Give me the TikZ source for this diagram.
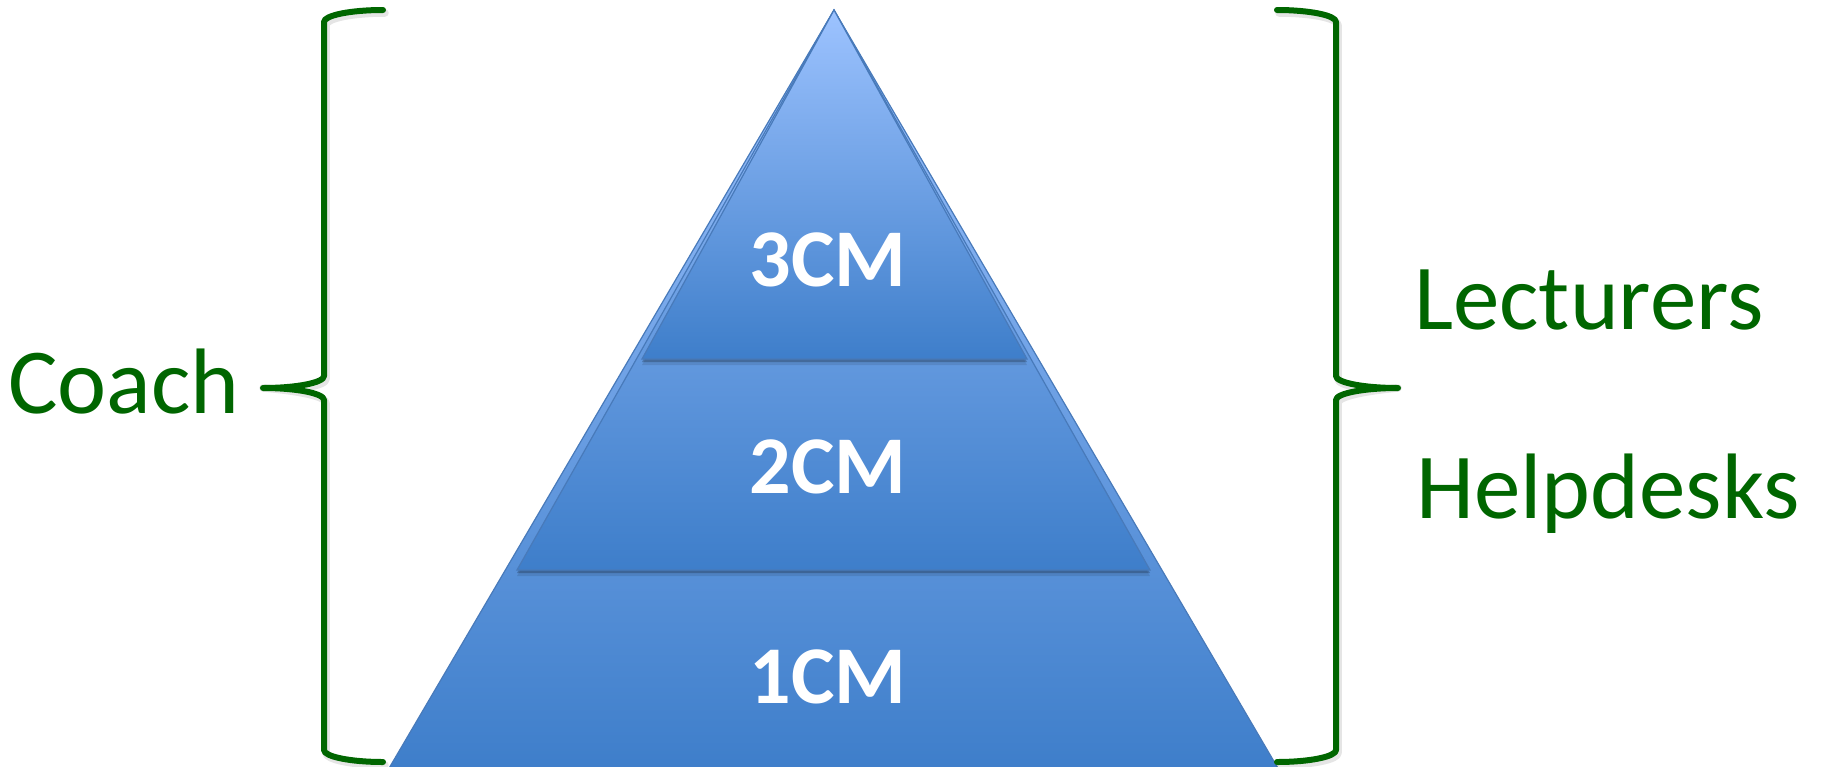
\documentclass[tikz,border=0pt]{standalone}
\usepackage{fontspec}
\setmainfont{Carlito}
\begin{document}
\begin{tikzpicture}[x=1pt,y=-1pt]
\definecolor{grn}{RGB}{0,102,0}
\definecolor{ptop}{RGB}{157,195,255}
\definecolor{pbot}{RGB}{62,126,202}
\definecolor{pedge}{RGB}{72,122,186}
\tikzset{
  layer/.style={top color=ptop, bottom color=pbot, draw=pedge, line width=1.2pt, line join=miter},
  shadowa/.style={fill=black, opacity=0.22},
  shadowb/.style={fill=black, opacity=0.10},
  lbl/.style={text=white, font=\bfseries\fontsize{82}{90}\selectfont, anchor=base, inner sep=0pt},
  glbl/.style={text=grn, font=\fontsize{93}{100}\selectfont, anchor=base west, inner sep=0pt},
  bracepath/.style={draw=grn, line width=6pt, line cap=round, line join=round},
  braceshadow/.style={draw=black, opacity=0.10, line width=7.5pt, line cap=round, line join=round},
}
\useasboundingbox (0,0) rectangle (1826,766);

% outer triangle (bottom layer)
\fill[shadowb, shift={(2,3)}] (834,10) -- (388,770) -- (1279,770) -- cycle;
\path[layer] (834,10) -- (388,770) -- (1279,770) -- cycle;

% middle triangle
\fill[shadowb, shift={(0,6)}] (834,10) -- (517,570) -- (1150,570) -- cycle;
\fill[shadowa, shift={(0,3)}] (834,10) -- (517,570) -- (1150,570) -- cycle;
\path[layer] (834,10) -- (517,570) -- (1150,570) -- cycle;

% top triangle
\fill[shadowb, shift={(0,6)}] (834,10) -- (642,359) -- (1027,359) -- cycle;
\fill[shadowa, shift={(0,3)}] (834,10) -- (642,359) -- (1027,359) -- cycle;
\path[layer] (834,10) -- (642,359) -- (1027,359) -- cycle;

% labels in pyramid
\node[lbl] (l3) at (828,286) {3CM};
\node[lbl] (l2) at (828,493) {2CM};
\node[lbl] (l1) at (828,703) {1CM};

% left brace
\coordinate (ltip) at (263,388);
\foreach \s/\st in {{(2,3)}/braceshadow, {(0,0)}/bracepath}{
  \draw[\st, shift=\s] (383,10) .. controls (350.4,10) and (324,15.4) .. (324,22)
    -- (324,376) .. controls (324,382.6) and (296.7,388) .. (ltip)
    .. controls (296.7,388) and (324,393.4) .. (324,400)
    -- (324,750) .. controls (324,756.6) and (350.4,762) .. (383,762);
}

% right brace
\coordinate (rtip) at (1398,388);
\foreach \s/\st in {{(2,3)}/braceshadow, {(0,0)}/bracepath}{
  \draw[\st, shift=\s] (1277,10) .. controls (1309.6,10) and (1336,15.4) .. (1336,22)
    -- (1336,376) .. controls (1336,382.6) and (1363.8,388) .. (rtip)
    .. controls (1363.8,388) and (1336,393.4) .. (1336,400)
    -- (1336,750) .. controls (1336,756.6) and (1309.6,762) .. (1277,762);
}

% green labels
\node[glbl] (coach) at (8,413) {Coach};
\node[glbl] (lect) at (1414,329) {Lecturers};
\node[glbl] (help) at (1416,518) {Helpdesks};
\end{tikzpicture}
\end{document}
